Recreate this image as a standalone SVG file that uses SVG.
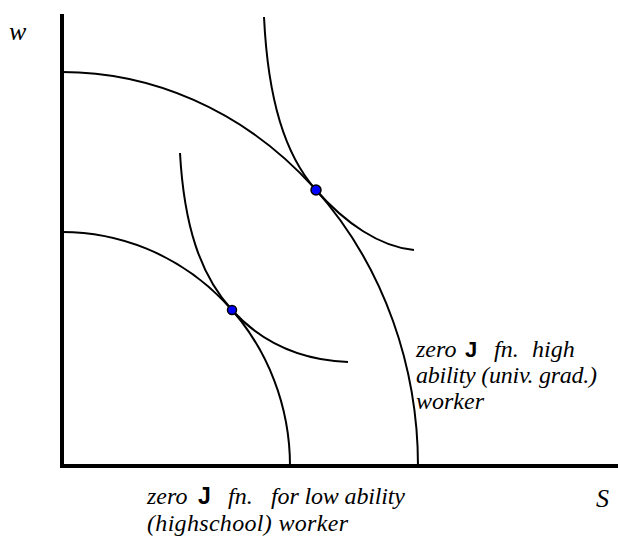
<svg xmlns="http://www.w3.org/2000/svg" width="618" height="548" viewBox="0 0 618 548">
<style>
.ax{stroke:#000;stroke-width:4;fill:none}
.cv{stroke:#000;stroke-width:2;fill:none}
.dot{fill:#0000ff;stroke:#000;stroke-width:1.5}
.t{font-family:"Liberation Serif","Times New Roman",serif;font-style:italic;fill:#000}
.r{font-size:24px}
.b{font-size:24px}
.ax-l{font-size:26px}
.j{font-family:"Liberation Sans","DejaVu Sans",sans-serif;font-style:normal;font-weight:bold}
</style>
<rect width="618" height="548" fill="#fff"/>
<g id="axes">
<path class="ax" d="M62,14 V466 H618"/>
</g>
<g id="connectors">
<path id="high-zero" class="cv" d="M62,72 A356,394 0 0 1 418,466"/>
<path id="low-zero" class="cv" d="M62,232 A228,234 0 0 1 290,466"/>
<path id="high-ic" class="cv" d="M264,17 C268,100 285,155 316,190 C345,223 380,247 414,250"/>
<path id="low-ic" class="cv" d="M180,153 C184,225 200,275 232,310 C262,343 300,360 348,362"/>
</g>
<g id="dot-high"><circle class="dot" cx="316" cy="190" r="5"/></g>
<g id="dot-low"><circle class="dot" cx="232" cy="310" r="4.5"/></g>
<g id="label-w"><text class="t ax-l" x="9" y="40">w</text></g>
<g id="label-S"><text class="t ax-l" x="596" y="507">S</text></g>
<g id="label-high">
<text class="t r" x="416" y="357"><tspan x="416">zero</tspan><tspan class="j" x="465" font-size="22">J</tspan><tspan x="494">fn.</tspan><tspan x="532">high</tspan></text>
<text class="t r" x="416" y="383" textLength="181">ability (univ. grad.)</text>
<text class="t r" x="416" y="409">worker</text>
</g>
<g id="label-low">
<text class="t b" x="147" y="504"><tspan x="147">zero</tspan><tspan class="j" x="198" font-size="23">J</tspan><tspan x="228">fn.</tspan><tspan x="271" textLength="134">for low ability</tspan></text>
<text class="t b" x="147" y="531" textLength="201">(highschool) worker</text>
</g>
</svg>
